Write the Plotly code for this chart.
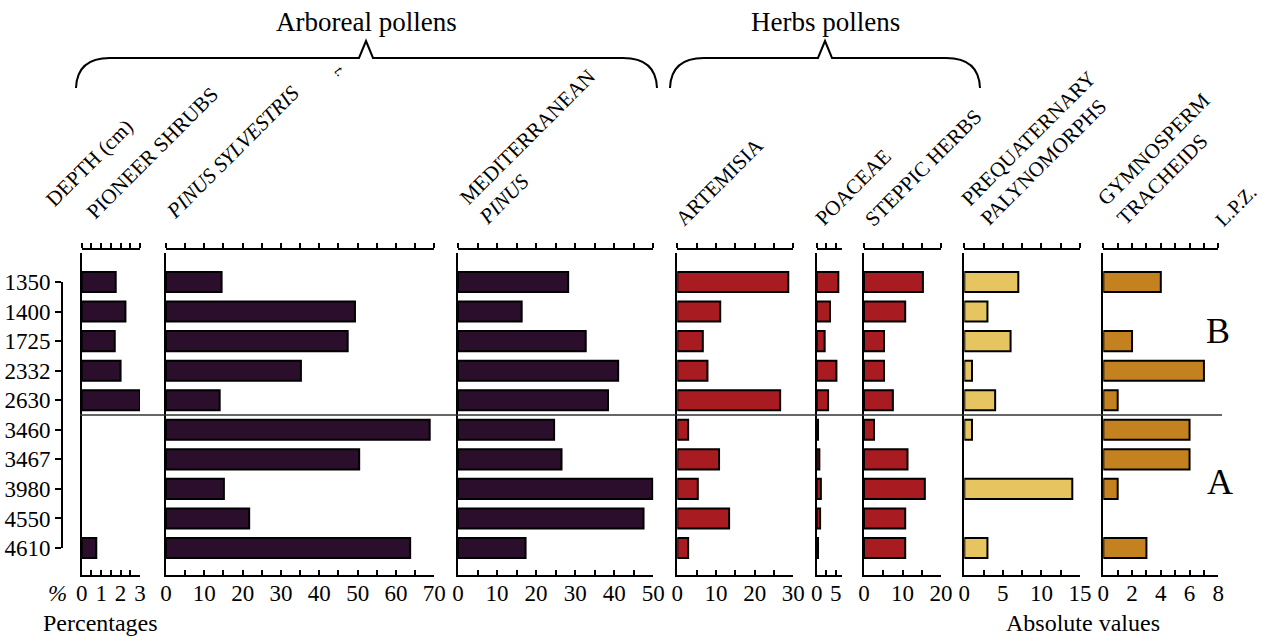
import plotly.graph_objects as go

# Sample depths (cm), top to bottom
depths = ["1350", "1400", "1725", "2332", "2630", "3460", "3467", "3980", "4550", "4610"]

# Percentages
pioneer_shrubs = [1.75, 2.25, 1.7, 2.0, 3.0, None, None, None, None, 0.75]
pinus_sylvestris = [14.5, 49.3, 47.4, 35.2, 14.0, 68.8, 50.4, 15.1, 21.7, 63.7]
mediterranean_pinus = [28.2, 16.3, 32.7, 41.0, 38.4, 24.6, 26.5, 49.8, 47.5, 17.3]
artemisia = [28.7, 11.1, 6.6, 7.8, 26.6, 2.8, 10.8, 5.3, 13.4, 2.8]
poaceae = [5.7, 3.5, 2.1, 5.2, 3.0, 0.35, 0.7, 1.1, 0.9, 0.35]
steppic_herbs = [15.3, 10.7, 5.2, 5.2, 7.5, 2.6, 11.3, 15.8, 10.7, 10.7]

# Absolute values
prequaternary_palynomorphs = [7, 3, 6, 1, 4, 1, None, 14, None, 3]
gymnosperm_tracheids = [4, None, 2, 7, 1, 6, 6, 1, None, 3]

# Local pollen zones and the boundary between them (between 2630 and 3460)
zones = ["B", "A"]
zone_boundary = 4.5

W, H = 1263, 637
FONT = "Liberation Serif"
DARK = "#2a0e2b"
RED = "#a71b21"
YELLOW = "#e6c460"
ORANGE = "#c3821f"
TICK_SIZE = 23


def px(x):
    return x / W


def py(y):
    return 1 - y / H


def ticks(stop, step, label_every):
    vals, texts = [], []
    v = 0.0
    while v <= stop + 1e-9:
        vals.append(round(v, 3))
        k = round(v / label_every, 6)
        texts.append(f"{v:g}" if abs(k - round(k)) < 1e-6 else "")
        v += step
    return vals, texts


# data, colour, axis range, last tick, left/right pixel edge, tick step, label step
panels = [
    (pioneer_shrubs, DARK, 3, 3, 81.7, 140.0, 0.5, 1),
    (pinus_sylvestris, DARK, 70, 70, 166.0, 434.3, 5, 10),
    (mediterranean_pinus, DARK, 50, 50, 458.0, 653.3, 5, 10),
    (artemisia, RED, 30, 30, 677.3, 793.3, 5, 10),
    (poaceae, RED, 6.75, 5, 816.7, 842.3, 2.5, 5),
    (steppic_herbs, RED, 20, 20, 864.0, 941.0, 5, 10),
    (prequaternary_palynomorphs, YELLOW, 15, 15, 964.3, 1080.0, 2.5, 5),
    (gymnosperm_tracheids, ORANGE, 8, 8, 1103.3, 1218.3, 1, 2),
]

rows = list(range(len(depths)))
row_top, row_step = 282.0, 29.56
y_range = [(575 - row_top) / row_step, (253 - row_top) / row_step]

fig = go.Figure()
layout = {}
n = len(panels)
for i, (vals, color, xmax, last, x0, x1, step, lab) in enumerate(panels, start=1):
    xname = "x" if i == 1 else f"x{i}"
    yname = "y" if i == 1 else f"y{i}"
    fig.add_trace(go.Bar(
        x=vals, y=rows, orientation="h", width=0.68,
        marker=dict(color=color, line=dict(color="black", width=2)),
        xaxis=xname, yaxis=yname, showlegend=False, hoverinfo="x+y",
    ))
    # empty trace so the top scale is drawn
    fig.add_trace(go.Scatter(
        x=[], y=[], mode="markers", xaxis=f"x{i + n}", yaxis=yname,
        showlegend=False, hoverinfo="skip",
    ))
    tv, tt = ticks(last, step, lab)
    axis_key = "xaxis" if i == 1 else f"xaxis{i}"
    layout[axis_key] = dict(
        domain=[px(x0), px(x1)], range=[0, xmax], anchor=yname,
        showline=True, linewidth=2, linecolor="black", mirror=False,
        ticks="inside", ticklen=5, tickwidth=2, tickcolor="black",
        tickvals=tv, ticktext=tt, showgrid=False, zeroline=False,
        tickfont=dict(family=FONT, size=TICK_SIZE, color="black"),
        ticklabelstandoff=-4,
        fixedrange=True, automargin=False,
    )
    layout[f"xaxis{i + n}"] = dict(
        overlaying=xname, side="top", anchor="free", position=py(249),
        range=[0, xmax], showline=True, linewidth=2, linecolor="black",
        ticks="outside", ticklen=5, tickwidth=2, tickcolor="black",
        tickvals=tv, showticklabels=False, showgrid=False, zeroline=False,
        fixedrange=True, automargin=False,
    )
    ykey = "yaxis" if i == 1 else f"yaxis{i}"
    layout[ykey] = dict(
        domain=[py(575), py(253)], range=y_range, anchor=xname,
        showline=True, linewidth=2, linecolor="black",
        ticks="", showticklabels=False, showgrid=False, zeroline=False,
        fixedrange=True, automargin=False,
    )

# Depth axis, on its own hidden x axis
dx = f"x{2 * n + 1}"
dy = f"y{n + 1}"
fig.add_trace(go.Scatter(
    x=[], y=[], mode="markers", xaxis=dx, yaxis=dy,
    showlegend=False, hoverinfo="skip",
))
layout[f"xaxis{2 * n + 1}"] = dict(domain=[0, px(40)], anchor=dy, visible=False,
                                   automargin=False)
layout[f"yaxis{n + 1}"] = dict(
    domain=[py(548), py(282)], range=[len(rows) - 1, 0], anchor="free",
    position=px(62), side="left", showline=True, linewidth=2, linecolor="black",
    ticks="outside", ticklen=6, tickwidth=2, tickcolor="black",
    tickvals=rows, ticktext=depths, showgrid=False, zeroline=False,
    tickfont=dict(family=FONT, size=TICK_SIZE, color="black"),
    fixedrange=True, automargin=False,
)

fig.update_layout(**layout)

# Zone boundary
fig.add_shape(type="line", xref="paper", yref="y", x0=px(80), x1=px(1222),
              y0=zone_boundary, y1=zone_boundary,
              line=dict(color="#333333", width=1.5))


# Group braces
def brace(xl, xr, xc):
    pts = lambda x, y: f"{px(x):.5f},{py(y):.5f}"
    return (f"M {pts(xl, 88)} Q {pts(xl + 1, 58)} {pts(xl + 34, 58)} "
            f"L {pts(xc - 7, 58)} L {pts(xc, 41)} L {pts(xc + 7, 58)} "
            f"L {pts(xr - 34, 58)} Q {pts(xr - 1, 58)} {pts(xr, 88)}")


for xl, xr, xc in [(76, 657, 366), (670, 980, 825)]:
    fig.add_shape(type="path", xref="paper", yref="paper", path=brace(xl, xr, xc),
                  line=dict(color="black", width=2))

ann = []


def text(x, y, s, size, xanchor="center", yanchor="middle", angle=0, align="center"):
    ann.append(dict(x=px(x), y=py(y), xref="paper", yref="paper", text=s,
                    showarrow=False, xanchor=xanchor, yanchor=yanchor,
                    textangle=angle, align=align,
                    font=dict(family=FONT, size=size, color="black")))


text(366, 22, "Arboreal pollens", 27)
text(825, 22, "Herbs pollens", 27)
text(340, 71, "<i>t.</i>", 15, angle=45)

headers = [
    (38, 214, "DEPTH (cm)", 21),
    (79, 227, "PIONEER SHRUBS", 21),
    (159, 226, "<i>PINUS SYLVESTRIS</i>", 21),
    (452, 232, "MEDITERRANEAN<br><i>PINUS</i>", 21),
    (668, 234, "ARTEMISIA", 21),
    (808, 233, "POACEAE", 21),
    (857, 234, "STEPPIC HERBS", 21),
    (954, 232, "PREQUATERNARY<br>PALYNOMORPHS", 21),
    (1090, 232, "GYMNOSPERM<br>TRACHEIDS", 21),
    (1208, 234, "L.P.Z.", 20),
]
for x, y, s, size in headers:
    text(x, y, s, size, xanchor="left", yanchor="bottom", angle=-45, align="left")

text(57, 593, "<i>%</i>", TICK_SIZE)
text(100, 623, "Percentages", 24)
text(1083, 623, "Absolute values", 24)
text(1218, 331, zones[0], 36)
text(1220, 482, zones[1], 36)

fig.update_layout(
    template="none",
    annotations=ann,
    width=W, height=H, margin=dict(l=0, r=0, t=0, b=0, pad=0, autoexpand=False),
    paper_bgcolor="white", plot_bgcolor="white",
    barmode="overlay", showlegend=False,
    font=dict(family=FONT, color="black"),
)

fig.write_html("out.html", include_plotlyjs=True, full_html=True,
               config={"displayModeBar": False})
